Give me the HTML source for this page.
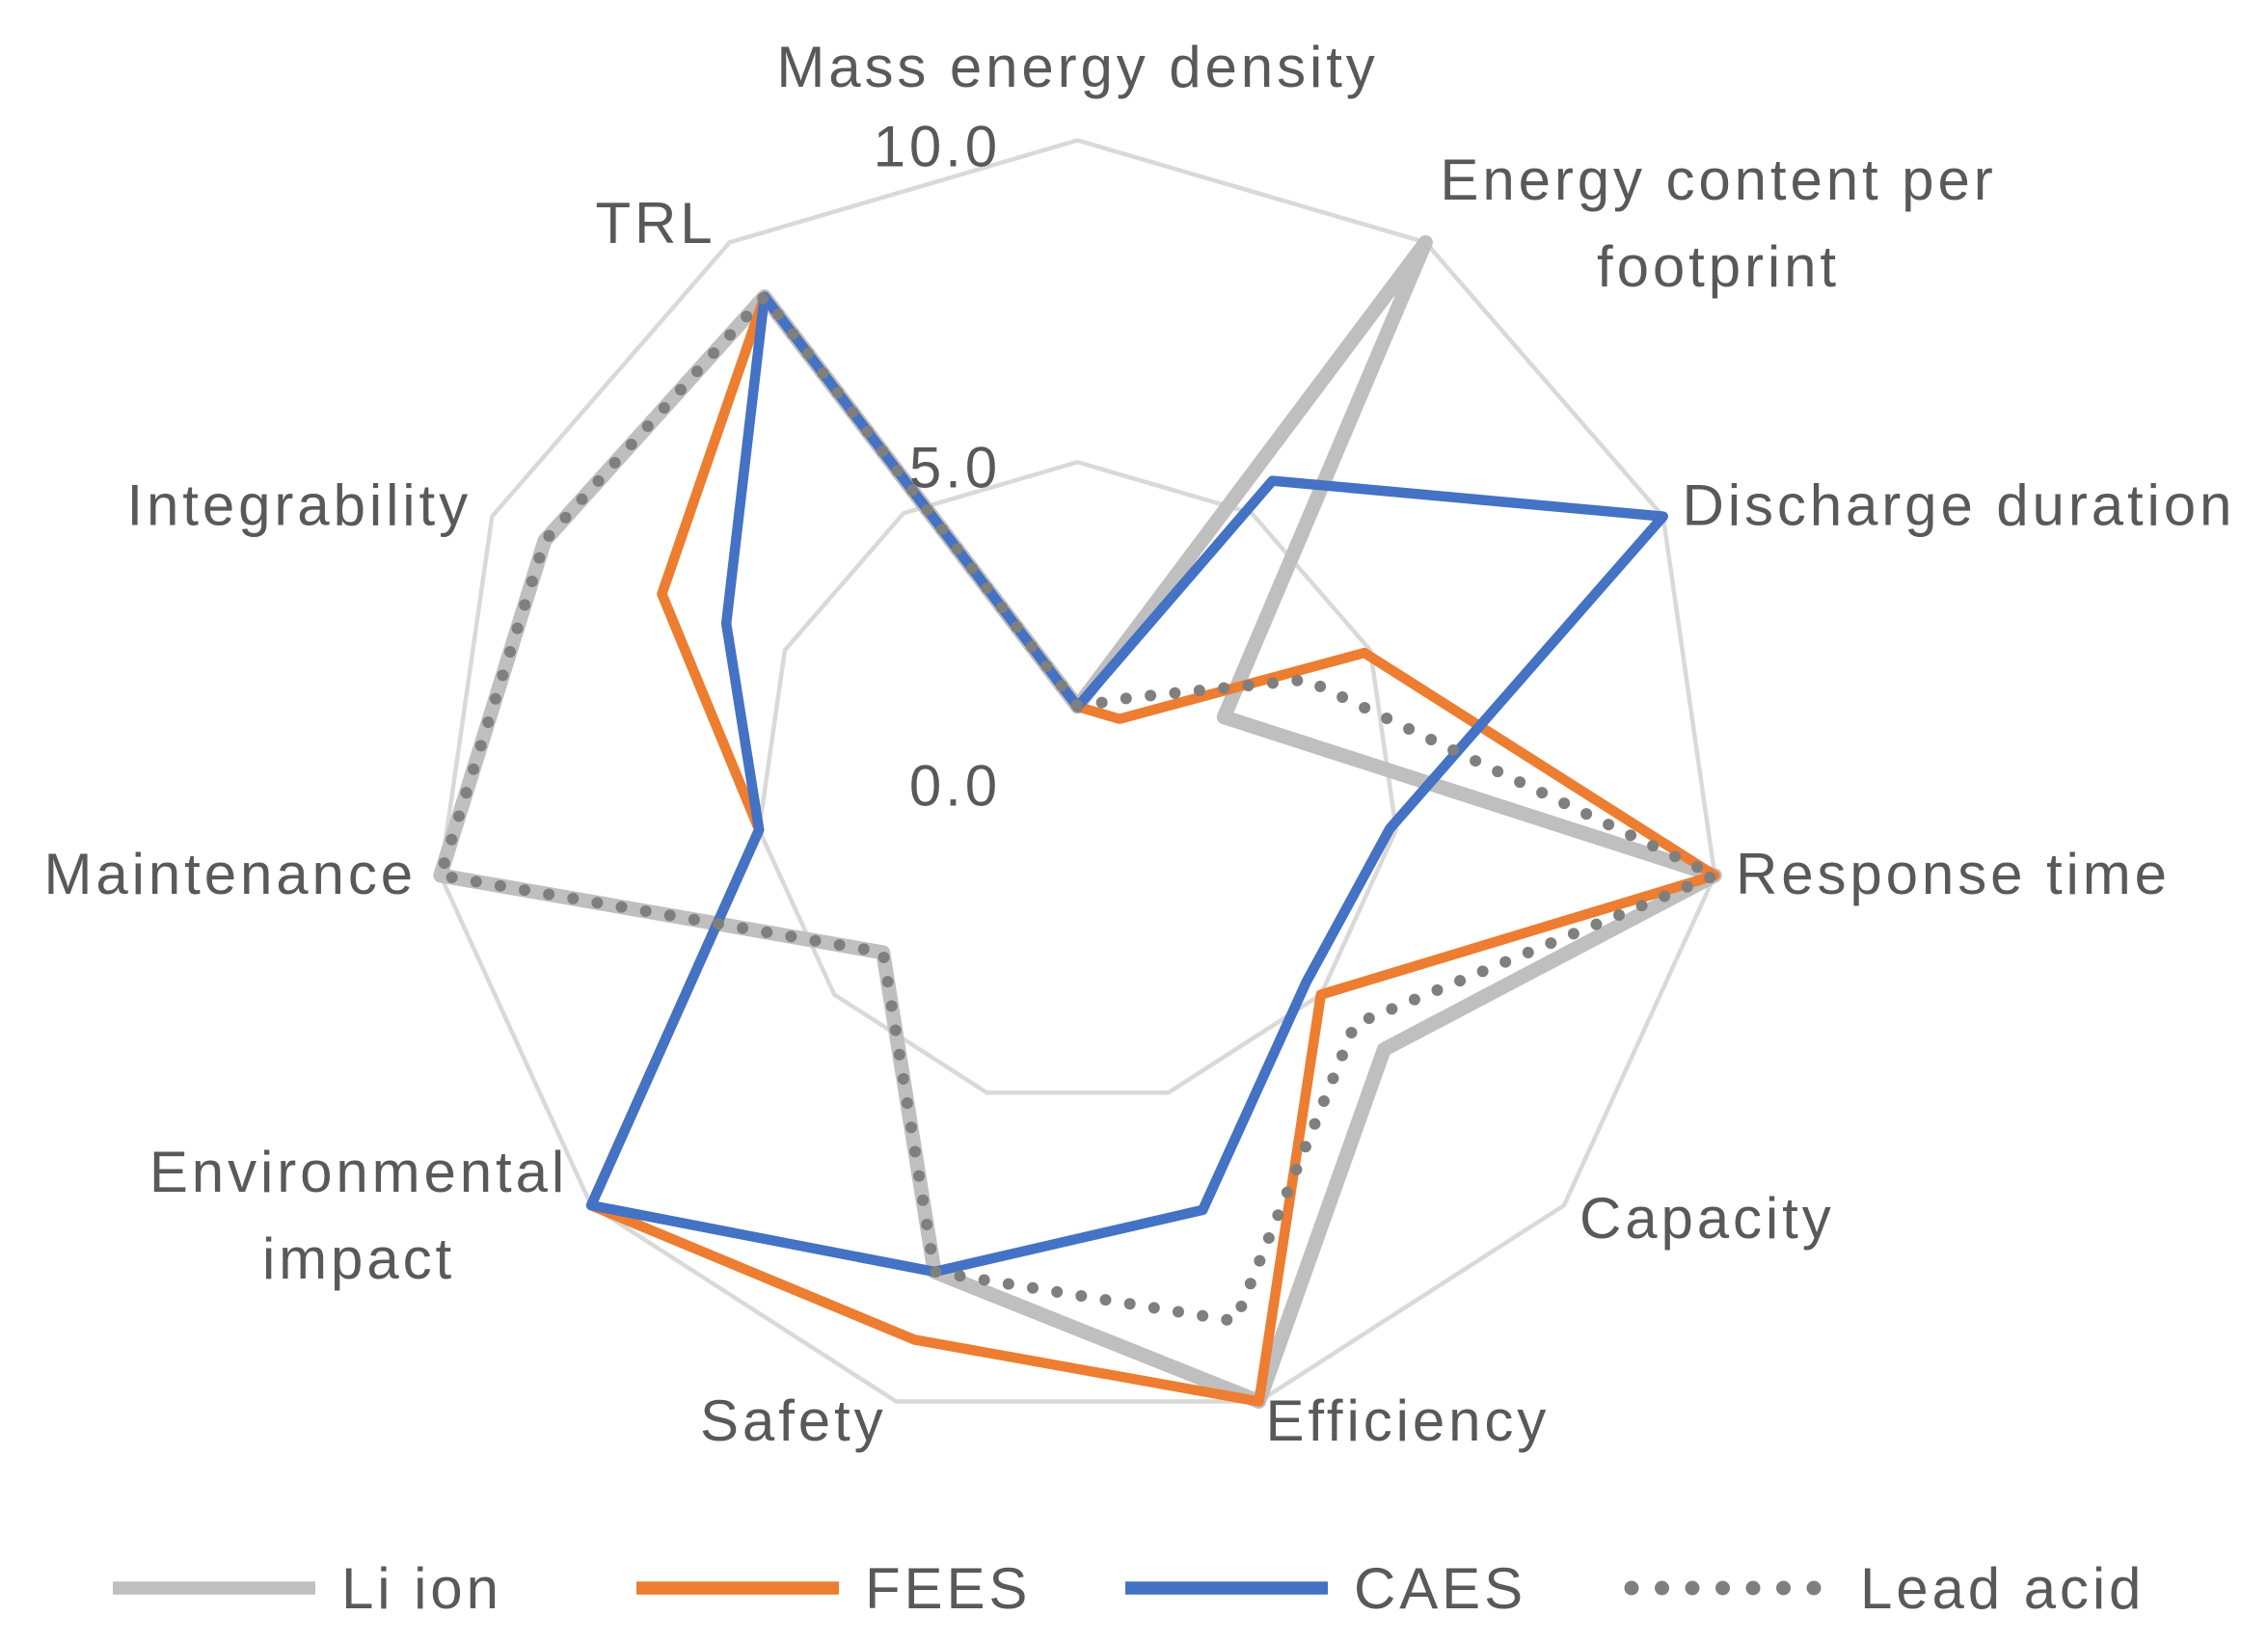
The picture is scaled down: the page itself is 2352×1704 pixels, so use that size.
<!DOCTYPE html>
<html><head><meta charset="utf-8"><style>
html,body{margin:0;padding:0;background:#fff;}
svg{display:block}
text{font-family:"Liberation Sans",sans-serif;fill:#595959;letter-spacing:2.6px;}
</style></head><body>
<svg id="s" width="2352" height="1704" viewBox="0 0 1568 1136" xmlns="http://www.w3.org/2000/svg">
<rect width="1568" height="1136" fill="#fff"/>
<g id="grid"></g>
<g id="series"></g>
<g font-size="40">
<text x="745" y="60" text-anchor="middle">Mass energy density</text>
<text x="1188" y="138" text-anchor="middle">Energy content per</text>
<text x="1188" y="198" text-anchor="middle">footprint</text>
<text x="1163" y="363">Discharge duration</text>
<text x="1200" y="618">Response time</text>
<text x="1092" y="856">Capacity</text>
<text x="875" y="996">Efficiency</text>
<text x="613" y="996" text-anchor="end">Safety</text>
<text x="248" y="824" text-anchor="middle">Environmental</text>
<text x="248" y="884" text-anchor="middle">impact</text>
<text x="288" y="618" text-anchor="end">Maintenance</text>
<text x="326" y="363" text-anchor="end">Integrability</text>
<text x="495" y="168" text-anchor="end">TRL</text>
<text x="692" y="115" text-anchor="end">10.0</text>
<text x="692" y="337" text-anchor="end">5.0</text>
<text x="692" y="557" text-anchor="end">0.0</text>
</g>
<g font-size="40">
<line x1="78" y1="1098" x2="218" y2="1098" stroke="#bfbfbf" stroke-width="9"/>
<text x="236" y="1112">Li ion</text>
<line x1="440" y1="1098" x2="580" y2="1098" stroke="#ed7d31" stroke-width="9"/>
<text x="598" y="1112">FEES</text>
<line x1="778" y1="1098" x2="918" y2="1098" stroke="#4472c4" stroke-width="9"/>
<text x="936" y="1112">CAES</text>
<line x1="1128" y1="1098" x2="1268" y2="1098" stroke="#7f7f7f" stroke-width="10" stroke-dasharray="0 21" stroke-linecap="round"/>
<text x="1286" y="1112">Lead acid</text>
</g>
</svg>
<script>
var cx=745,cy=542,R=445,N=11,NS="http://www.w3.org/2000/svg";
function pts(v){return v.map(function(val,i){var a=i*2*Math.PI/N;return (cx+Math.sin(a)*R*val/10).toFixed(1)+","+(cy-Math.cos(a)*R*val/10).toFixed(1);}).join(" ");}
function poly(g,v,attrs){var p=document.createElementNS(NS,"polygon");p.setAttribute("points",pts(v));for(var k in attrs)p.setAttribute(k,attrs[k]);document.getElementById(g).appendChild(p);}
var ten=[],five=[];for(var i=0;i<N;i++){ten.push(10);five.push(5);}
poly("grid",ten,{fill:"none",stroke:"#d9d9d9","stroke-width":3});
poly("grid",five,{fill:"none",stroke:"#d9d9d9","stroke-width":3});
var li=[1.2,10,2.5,10,6.3,10,7.9,4.0,10,9.1,9.0];
var fe=[1.2,1.2,4.9,10,5.0,10,9.0,10,5.0,7.1,9.0];
var ca=[1.2,5.6,10,4.9,4.7,6.9,7.9,10,5.0,6.0,9.0];
var la=[1.2,1.6,3.9,10,5.7,8.7,7.9,4.0,10,9.1,9.0];
poly("series",li,{fill:"none",stroke:"#bfbfbf","stroke-width":10,"stroke-linejoin":"round"});
poly("series",fe,{fill:"none",stroke:"#ed7d31","stroke-width":7,"stroke-linejoin":"round"});
poly("series",ca,{fill:"none",stroke:"#4472c4","stroke-width":7,"stroke-linejoin":"round"});
poly("series",la,{fill:"none",stroke:"#7f7f7f","stroke-width":8,"stroke-dasharray":"0 17","stroke-linecap":"round"});
</script>
</body></html>
